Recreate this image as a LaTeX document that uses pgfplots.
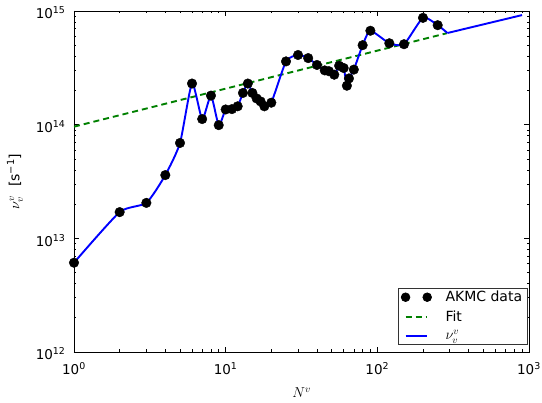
\documentclass[border=0pt]{standalone}
\usepackage{pgfplots}
\pgfplotsset{compat=1.18}
\usepackage{fontspec}
\setmainfont{DejaVu Sans}
\definecolor{mgreen}{RGB}{0,128,0}
\pgfplotsset{
  twomarks/.style={legend image code/.code={\draw[##1, mark size=4.3pt] plot coordinates {(0cm,0cm) (0.76cm,0cm)};}},
  longline/.style={legend image code/.code={\draw[##1, line width=1.9pt] (0cm,0cm) -- (0.76cm,0cm);}},
}
\begin{document}
\fontsize{13}{15}\selectfont
\begin{tikzpicture}
\useasboundingbox (0,0) rectangle (542pt,403pt);
\begin{axis}[
  at={(74pt,51pt)}, anchor=south west,
  scale only axis, width=455pt, height=341pt,
  xmode=log, ymode=log,
  xmin=1, xmax=1000, ymin=1e12, ymax=1e15,
  xtick={1,10,100,1000},
  xticklabels={10\textsuperscript{0},10\textsuperscript{1},10\textsuperscript{2},10\textsuperscript{3}},
  ytick={1e12,1e13,1e14,1e15},
  yticklabels={10\textsuperscript{12},10\textsuperscript{13},10\textsuperscript{14},10\textsuperscript{15}},
  tick align=inside, tick pos=both,
  major tick length=5pt, minor tick length=2.5pt,
  every tick/.style={black, line width=0.6pt},
  axis line style={line width=0.8pt},
  ticklabel style={font=\fontsize{13.5}{15}\selectfont},
  xticklabel style={yshift=-6pt},
  yticklabel style={xshift=-4pt, yshift=-2pt},
  xlabel={$N^v$}, ylabel={$\nu_v^v$\ \ [s\textsuperscript{−1}]},
  label style={font=\fontsize{14}{16}\selectfont},
  xlabel style={yshift=-4pt},
  ylabel style={yshift=4pt},
  legend style={at={(1,0)}, anchor=south east, xshift=-1.5pt, yshift=7pt,
    draw=black!80, line width=0.8pt, font=\fontsize{14}{16}\selectfont,
    row sep=3pt, column sep=12pt, inner xsep=3pt, inner ysep=1pt},
  legend cell align=left,
]
\addplot[only marks, mark=*, mark size=4.8pt, black, twomarks]
coordinates {
(1,6.1e12) (2,1.7e13) (3,2.05e13) (4,3.6e13) (5,6.9e13) (6,2.3e14) (7,1.12e14)
(8,1.8e14) (9,9.9e13) (10,1.36e14) (11,1.37e14) (12,1.45e14) (13,1.9e14)
(14,2.3e14) (15,1.9e14) (16,1.7e14) (17,1.6e14) (18,1.45e14) (20,1.56e14)
(25,3.6e14) (30,4.1e14) (35,3.85e14) (40,3.35e14) (45,3.0e14) (48,2.95e14)
(52,2.75e14) (56,3.3e14) (60,3.15e14) (63,2.2e14) (65,2.55e14) (70,3.05e14)
(80,5.0e14) (90,6.7e14) (120,5.2e14) (150,5.1e14) (200,8.7e14) (250,7.5e14)
};
\addlegendentry{AKMC data}
\addplot[mgreen, line width=1.9pt, dash pattern=on 6pt off 4pt, longline]
coordinates {(1,9.6e13) (287,6.37e14)};
\addlegendentry{Fit}
\addplot[blue, line width=1.9pt, smooth, tension=0.35, longline]
coordinates {
(1,6.1e12) (2,1.7e13) (3,2.05e13) (4,3.6e13) (5,6.9e13) (6,2.3e14) (7,1.12e14)
(8,1.8e14) (9,9.9e13) (10,1.36e14) (11,1.37e14) (12,1.45e14) (13,1.9e14)
(14,2.3e14) (15,1.9e14) (16,1.7e14) (17,1.6e14) (18,1.45e14) (20,1.56e14)
(25,3.6e14) (30,4.1e14) (35,3.85e14) (40,3.35e14) (45,3.0e14) (48,2.95e14)
(52,2.75e14) (56,3.3e14) (60,3.15e14) (63,2.2e14) (65,2.55e14) (70,3.05e14)
(80,5.0e14) (90,6.7e14) (120,5.2e14) (150,5.1e14) (200,8.7e14) (250,7.5e14)
(290,6.4e14)
};
\addlegendentry{$\nu_v^v$}
\addplot[blue, line width=1.9pt, forget plot]
coordinates {(290,6.4e14) (900,9.2e14)};
\end{axis}
\end{tikzpicture}
\end{document}
